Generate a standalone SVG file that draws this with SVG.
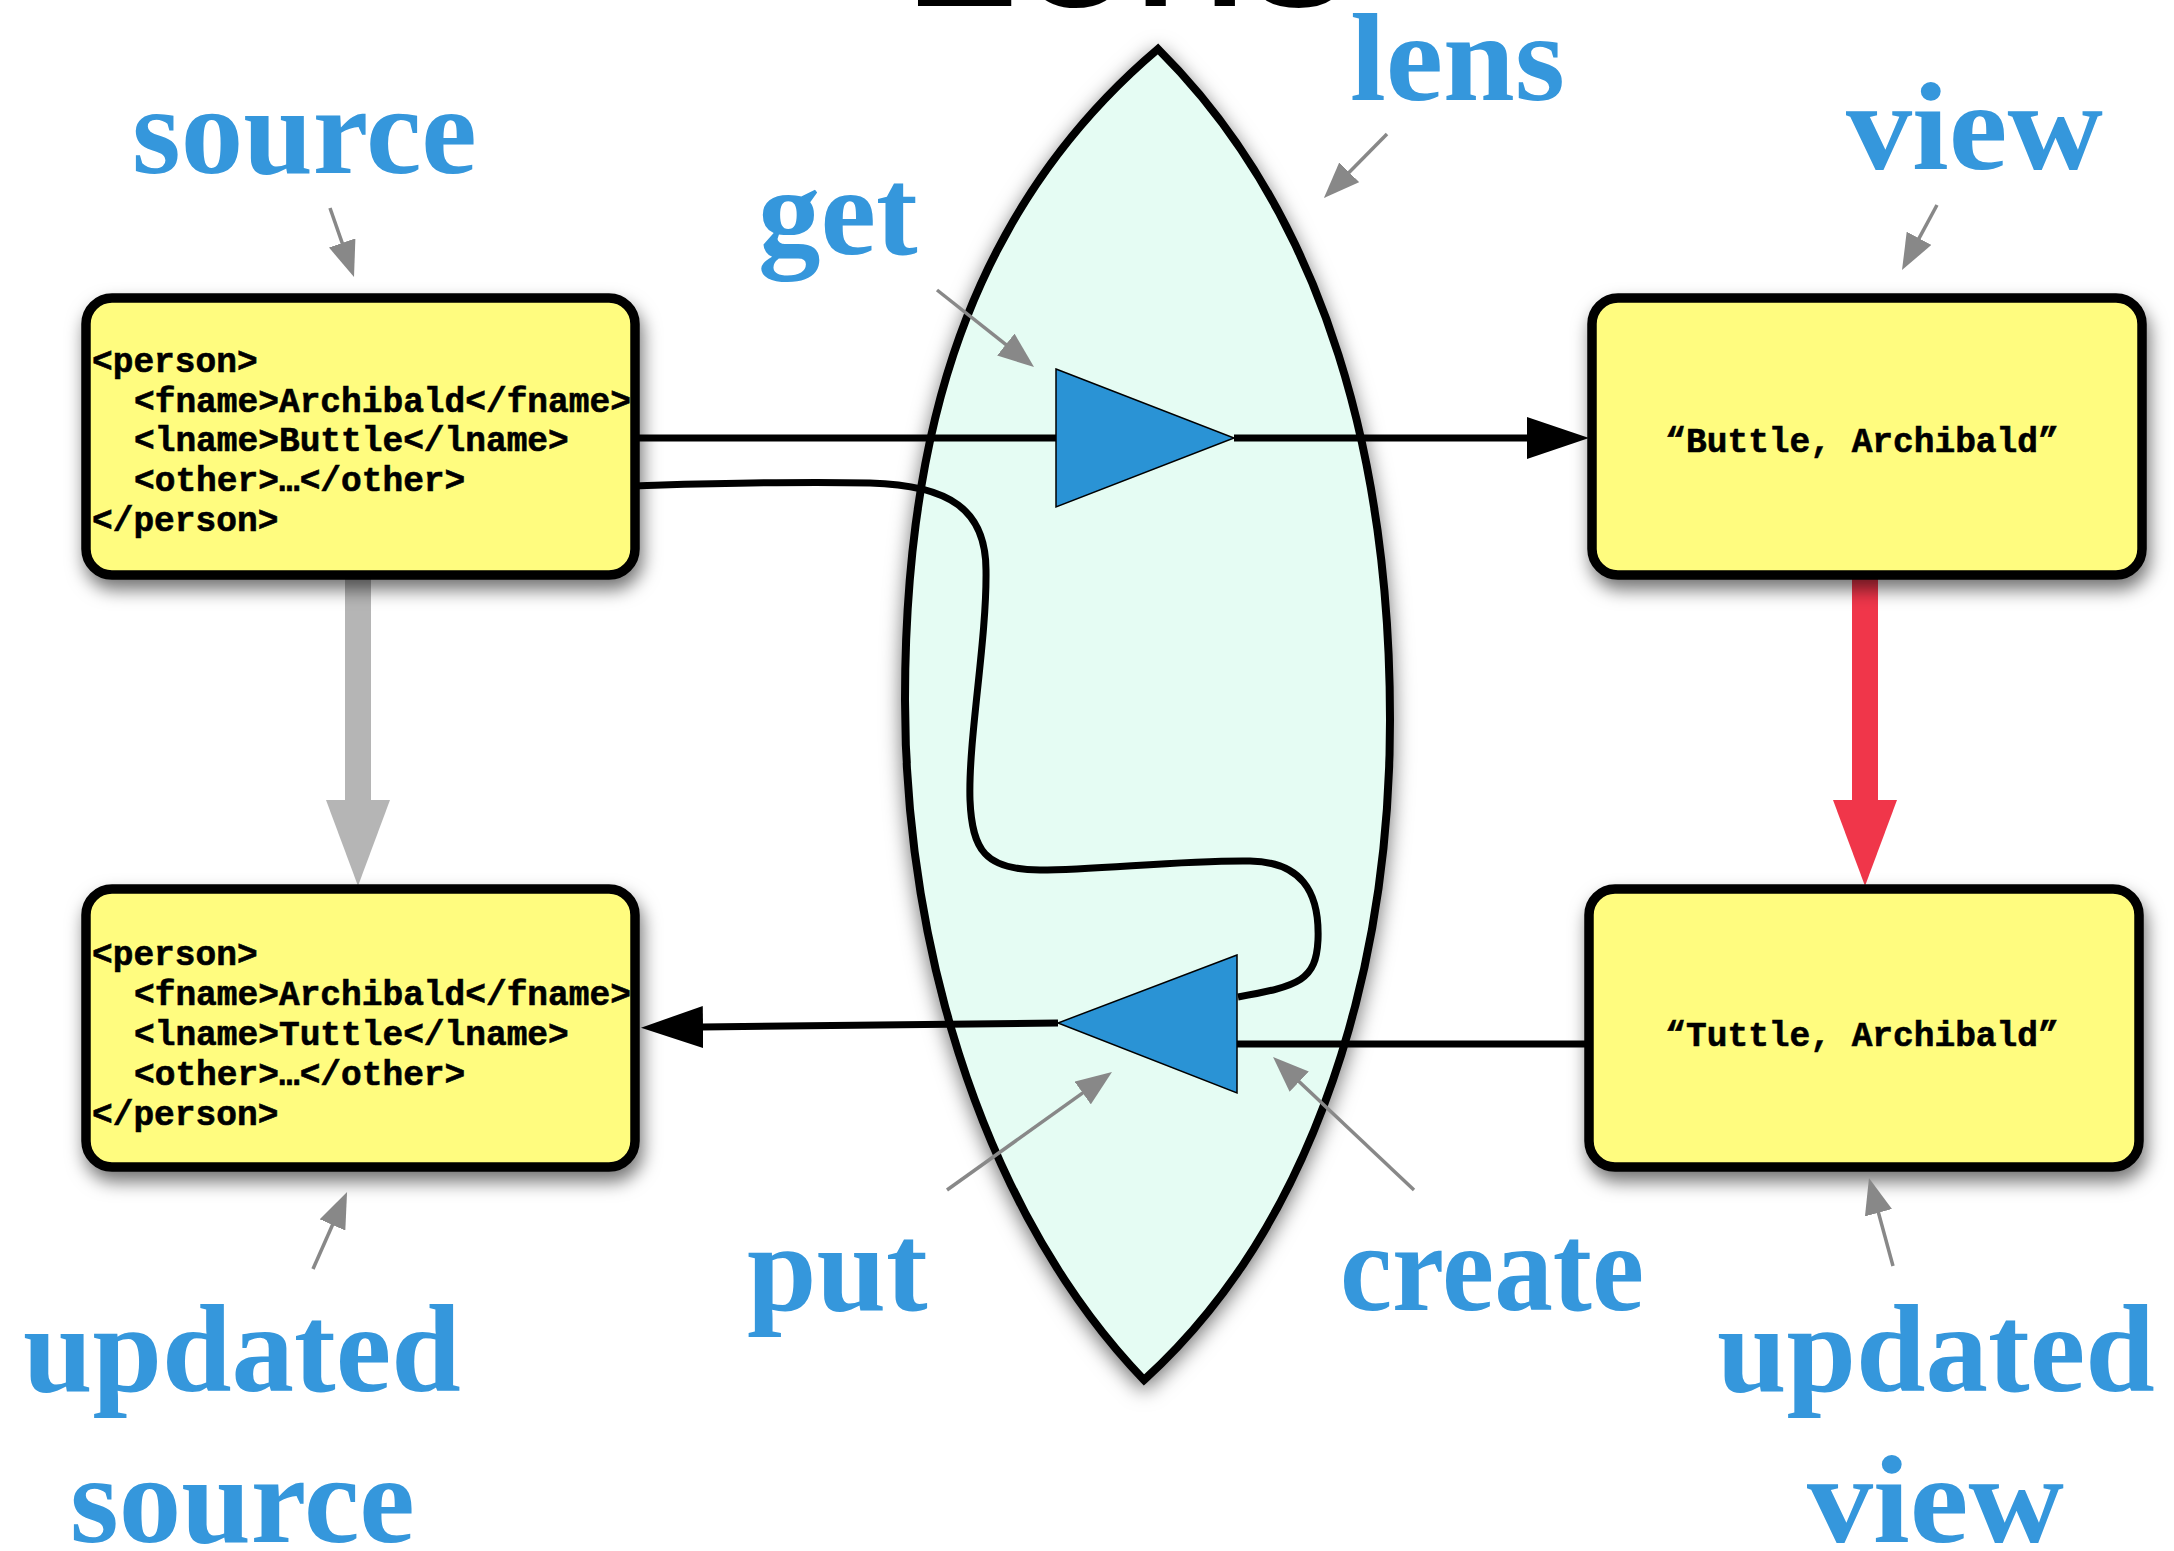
<svg xmlns="http://www.w3.org/2000/svg" width="2174" height="1551" viewBox="0 0 2174 1551">
<style>
.box{fill:#fffc7f;stroke:#000;stroke-width:9.5}
.code{font-family:"Liberation Mono","Courier New",monospace;font-weight:bold;font-size:34.5px;fill:#000;stroke:#000;stroke-width:0.6}
.lbl{font-family:"Liberation Serif","Times New Roman",serif;font-weight:bold;font-size:125px;fill:#3597dc}
.wire{fill:none;stroke:#000;stroke-width:7}
.ptr{fill:none;stroke:#888;stroke-width:3.5}
.tri{fill:#2a93d5;stroke:#000;stroke-width:1.5;stroke-linejoin:miter}
</style>
<defs>
<filter id="sh" x="-20%" y="-20%" width="140%" height="150%">
<feDropShadow dx="3" dy="10" stdDeviation="9" flood-color="#000" flood-opacity="0.55"/>
</filter>
<filter id="lsh" x="-30%" y="-10%" width="160%" height="120%">
<feDropShadow dx="0" dy="6" stdDeviation="10" flood-color="#000" flood-opacity="0.55"/>
</filter>
<marker id="ah" markerUnits="userSpaceOnUse" viewBox="0 0 62 42" refX="1" refY="21" markerWidth="62" markerHeight="42" orient="auto">
<path d="M0,0 L62,21 L0,42 z" fill="#000"/>
</marker>
<marker id="gp" markerUnits="userSpaceOnUse" viewBox="0 0 36 28" refX="1" refY="14" markerWidth="36" markerHeight="28" orient="auto">
<path d="M0,0 L36,14 L0,28 z" fill="#888"/>
</marker>
</defs>
<rect width="2174" height="1551" fill="#fff"/>

<text x="902" y="5" font-family="Liberation Sans,Arial,sans-serif" font-size="207" fill="#000" stroke="#000" stroke-width="2">Lens</text>

<g id="lens">
<path d="M1158 49 C950 225 905 470 905 700 C905 960 990 1220 1144 1380 C1320 1220 1390 960 1390 720 C1390 470 1330 220 1158 49 Z" fill="#e5fcf3" stroke="#000" stroke-width="8" stroke-linejoin="miter" filter="url(#lsh)"/>
</g>

<g id="connectors">
<line class="wire" x1="630" y1="438" x2="1056" y2="438"/>
<line class="wire" x1="1234" y1="438" x2="1528" y2="438" marker-end="url(#ah)"/>
<path class="wire" d="M630 486 C700 484 780 481 870 483 C950 485 986 510 986 570 C987 640 968 740 970 800 C972 850 985 870 1040 870 C1100 870 1180 860 1250 861 C1300 862 1320 890 1318 940 C1316 980 1300 986 1238 997"/>
<line class="wire" x1="1596" y1="1044" x2="1237" y2="1044"/>
<line class="wire" x1="1058" y1="1023" x2="702" y2="1027" marker-end="url(#ah)"/>
<polygon id="get-tri" class="tri" points="1056,369 1234,438 1056,507"/>
<polygon id="put-tri" class="tri" points="1237,955 1058,1023 1237,1093"/>
<line x1="358" y1="570" x2="358" y2="805" stroke="#b5b5b5" stroke-width="26"/>
<polygon points="326,800 390,800 358,886" fill="#b5b5b5"/>
<line x1="1865" y1="570" x2="1865" y2="805" stroke="#f0364a" stroke-width="26"/>
<polygon points="1833,800 1897,800 1865,886" fill="#f0364a"/>
</g>

<g id="source">
<rect class="box" x="86" y="298" width="549" height="277" rx="26" filter="url(#sh)"/>
<text class="code" x="92" y="372">&lt;person&gt;</text>
<text class="code" x="134" y="412">&lt;fname&gt;Archibald&lt;/fname&gt;</text>
<text class="code" x="134" y="451">&lt;lname&gt;Buttle&lt;/lname&gt;</text>
<text class="code" x="134" y="491">&lt;other&gt;…&lt;/other&gt;</text>
<text class="code" x="92" y="531">&lt;/person&gt;</text>
</g>

<g id="updated-source">
<rect class="box" x="86" y="889" width="549" height="278" rx="26" filter="url(#sh)"/>
<text class="code" x="92" y="965">&lt;person&gt;</text>
<text class="code" x="134" y="1005">&lt;fname&gt;Archibald&lt;/fname&gt;</text>
<text class="code" x="134" y="1045">&lt;lname&gt;Tuttle&lt;/lname&gt;</text>
<text class="code" x="134" y="1085">&lt;other&gt;…&lt;/other&gt;</text>
<text class="code" x="92" y="1125">&lt;/person&gt;</text>
</g>

<g id="view">
<rect class="box" x="1592" y="298" width="550" height="277" rx="26" filter="url(#sh)"/>
<text class="code" x="1862" y="452" text-anchor="middle">“Buttle, Archibald”</text>
</g>

<g id="updated-view">
<rect class="box" x="1589" y="889" width="550" height="278" rx="26" filter="url(#sh)"/>
<text class="code" x="1862" y="1046" text-anchor="middle">“Tuttle, Archibald”</text>
</g>

<g id="pointers">
<line class="ptr" x1="330" y1="208" x2="342.5" y2="243.9" marker-end="url(#gp)"/>
<line class="ptr" x1="1387" y1="134" x2="1348.5" y2="173" marker-end="url(#gp)"/>
<line class="ptr" x1="1937" y1="205" x2="1918.6" y2="239.2" marker-end="url(#gp)"/>
<line class="ptr" x1="937" y1="290" x2="1006.6" y2="345.2" marker-end="url(#gp)"/>
<line class="ptr" x1="947" y1="1190" x2="1083.5" y2="1092.4" marker-end="url(#gp)"/>
<line class="ptr" x1="1414" y1="1190" x2="1298.5" y2="1081" marker-end="url(#gp)"/>
<line class="ptr" x1="313" y1="1269" x2="332.9" y2="1224" marker-end="url(#gp)"/>
<line class="ptr" x1="1893" y1="1266" x2="1878.2" y2="1211.8" marker-end="url(#gp)"/>
</g>

<g id="labels">
<text class="lbl" x="132" y="173">source</text>
<text class="lbl" x="1350" y="100" textLength="215" lengthAdjust="spacingAndGlyphs">lens</text>
<text class="lbl" x="1846" y="169" textLength="257" lengthAdjust="spacingAndGlyphs">view</text>
<text class="lbl" x="758" y="254">get</text>
<text class="lbl" x="747" y="1310">put</text>
<text class="lbl" x="1340" y="1310" textLength="304" lengthAdjust="spacingAndGlyphs">create</text>
<text class="lbl" x="23" y="1391">updated</text>
<text class="lbl" x="70" y="1542">source</text>
<text class="lbl" x="1717" y="1391">updated</text>
<text class="lbl" x="1807" y="1542" textLength="257" lengthAdjust="spacingAndGlyphs">view</text>
</g>
</svg>
